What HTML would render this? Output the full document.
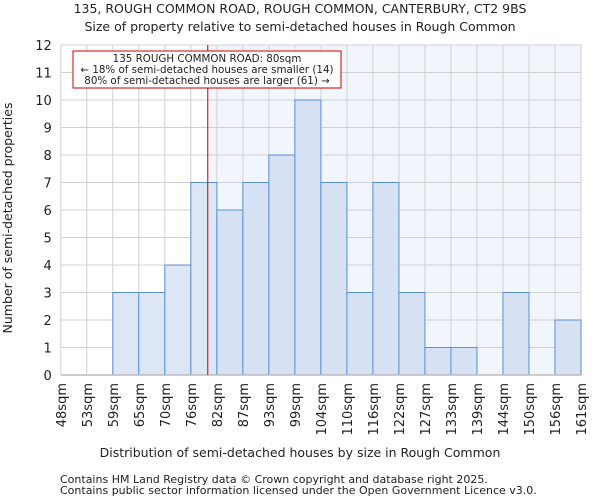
<!DOCTYPE html>
<html><head><meta charset="utf-8"><style>
body{margin:0;background:#fff;font-family:"DejaVu Sans","Liberation Sans",sans-serif;}
svg text{font-family:"DejaVu Sans","Liberation Sans",sans-serif;fill:#222;}
</style></head><body>
<svg id="chart" width="600" height="500" xmlns="http://www.w3.org/2000/svg">
<text x="300" y="13" text-anchor="middle" font-size="12.5">135, ROUGH COMMON ROAD, ROUGH COMMON, CANTERBURY, CT2 9BS</text>
<text x="300" y="31" text-anchor="middle" font-size="12.5">Size of property relative to semi-detached houses in Rough Common</text>
<g id="plot"></g>
<text transform="translate(12,218) rotate(-90)" text-anchor="middle" font-size="12.5">Number of semi-detached properties</text>
<text x="300" y="457" text-anchor="middle" font-size="12.5">Distribution of semi-detached houses by size in Rough Common</text>
<text x="60" y="483" font-size="11" fill="#444">Contains HM Land Registry data © Crown copyright and database right 2025.</text>
<text x="60" y="494" font-size="11" fill="#444">Contains public sector information licensed under the Open Government Licence v3.0.</text>
</svg>
<script>
const edgeLabels=["48sqm","53sqm","59sqm","65sqm","70sqm","76sqm","82sqm","87sqm","93sqm","99sqm","104sqm","110sqm","116sqm","122sqm","127sqm","133sqm","139sqm","144sqm","150sqm","156sqm","161sqm"];
const counts=[0,0,3,3,4,7,6,7,8,10,7,3,7,3,1,1,0,3,0,2];
const yTicks=[0,1,2,3,4,5,6,7,8,9,10,11,12];
const markerIndex=5.65;
const NS="http://www.w3.org/2000/svg";
const X0=60.8,X1=581,Y0=375,Y1=45,YMAX=12;
const nb=counts.length;
const xs=i=>X0+(X1-X0)*i/nb;
const ys=v=>Y0-(Y0-Y1)*v/YMAX;
const g=document.getElementById('plot');
function mk(t,a){const e=document.createElementNS(NS,t);for(const k in a)e.setAttribute(k,a[k]);g.appendChild(e);return e;}
const mx=xs(markerIndex);
let e=mk('rect',{x:mx,y:Y1,width:X1-mx,height:Y0-Y1,fill:'#f1f5fc'});


yTicks.forEach(t=>{
 let l=mk('line',{x1:X0,x2:X1,y1:ys(t),y2:ys(t),stroke:'#d0d0d0','stroke-width':1});
 
 
 let tx=mk('text',{x:X0-9,y:ys(t)+5,'text-anchor':'end','font-size':13});
 tx.textContent=t;
 
 
});
edgeLabels.forEach((s,i)=>{
 let l=mk('line',{x1:xs(i),x2:xs(i),y1:Y1,y2:Y0,stroke:'#d0d0d0','stroke-width':1});
 
 
 let tx=mk('text',{transform:`translate(${xs(i)+5},383) rotate(-90)`,'text-anchor':'end','font-size':13});
 tx.textContent=s;
 
 
});
counts.forEach((c,i)=>{
 if(c<=0)return;
 let r=mk('rect',{x:xs(i),y:ys(c),width:xs(i+1)-xs(i),height:Y0-ys(c),fill:i<markerIndex?'#dce6f4':'#d6e2f3',stroke:'#5b8fd6','stroke-width':1});
 
 
});
let ax=mk('line',{x1:X0,x2:X1,y1:Y0,y2:Y0,stroke:'#bbb','stroke-width':1.5});


let ml=mk('line',{x1:mx,x2:mx,y1:Y1,y2:Y0,stroke:'#cc0000','stroke-width':1});


let box=mk('rect',{x:73,y:51,width:268,height:37,fill:'#fff',stroke:'#cc0000','stroke-width':1});


["135 ROUGH COMMON ROAD: 80sqm","← 18% of semi-detached houses are smaller (14)","80% of semi-detached houses are larger (61) →"].forEach((s,i)=>{
 let t=mk('text',{x:207,y:62+i*11,'text-anchor':'middle','font-size':10.3});
 t.textContent=s;
 
 
});
</script>
</body></html>
